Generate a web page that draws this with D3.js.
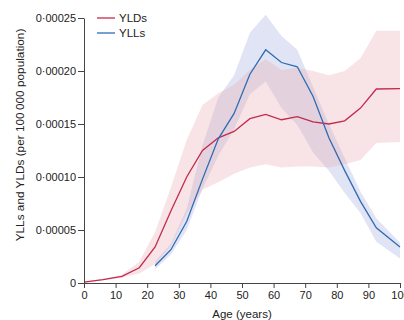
<!DOCTYPE html>
<html>
<head>
<meta charset="utf-8">
<script src="https://cdn.jsdelivr.net/npm/d3@7"></script>
<style>
  body { margin: 0; background: #fff; }
  svg { display: block; font-family: "Liberation Sans", Arial, sans-serif; }
  .axis text { font-size: 11px; fill: #222; }
  .axis path, .axis line { stroke: #444; }
</style>
</head>
<body>
<script>
// values in units of 1e-5 per 100 000 population
var yldAge = [0, 6, 12, 17.5, 22.5, 27.5, 32.5, 37.5, 42.5, 47.5, 52.5, 57.5, 62.5, 67.5, 72.5, 77.5, 82.5, 87.5, 92.5, 100];
var yldMid = [0.09, 0.31, 0.62, 1.44, 3.4, 6.8, 10.0, 12.5, 13.7, 14.3, 15.5, 15.9, 15.4, 15.7, 15.2, 15.0, 15.3, 16.5, 18.3, 18.33];
var yldLow = [0.05, 0.25, 0.5, 0.9, 1.8, 3.5, 6.5, 8.8, 9.5, 10.3, 10.9, 11.2, 10.9, 11.0, 11.0, 10.9, 11.2, 11.6, 13.2, 13.3];
var yldUp  = [0.12, 0.38, 0.78, 2.0, 4.8, 9.0, 13.5, 16.8, 17.9, 18.7, 20.1, 21.1, 20.1, 20.3, 20.0, 19.6, 20.0, 21.2, 23.8, 23.8];

var yllAge = [22.5, 27.5, 32.5, 37.5, 42.5, 47.5, 52.5, 57.5, 62.5, 67.5, 72.5, 77.5, 82.5, 87.5, 92.5, 100];
var yllMid = [1.63, 3.14, 5.8, 9.8, 13.6, 16.0, 19.7, 22.0, 20.8, 20.4, 17.6, 13.7, 10.6, 7.7, 5.2, 3.4];
var yllLow = [1.3, 2.7, 5.0, 8.9, 12.0, 14.5, 17.8, 19.0, 16.5, 14.9, 12.3, 10.6, 8.5, 6.6, 3.9, 2.3];
var yllUp  = [2.0, 3.7, 7.0, 13.0, 17.5, 19.6, 23.6, 25.3, 23.3, 22.0, 18.5, 15.0, 11.8, 8.6, 6.1, 3.8];

var xTicks = [0, 10, 20, 30, 40, 50, 60, 70, 80, 90, 100];
var yTicks = [0, 0.00005, 0.0001, 0.00015, 0.0002, 0.00025];

var width = 404, height = 320;
var margin = {top: 18, right: 4, bottom: 37, left: 84};

var svg = d3.select("body").append("svg")
  .attr("width", width)
  .attr("height", height);

var x = d3.scaleLinear().domain([0, 100]).range([margin.left, width - margin.right]);
var y = d3.scaleLinear().domain([0, 0.00025]).range([height - margin.bottom, margin.top]);

function rows(age, mid, low, up) {
  return age.map(function(a, i) {
    return {age: a, mid: mid[i] * 1e-5, low: low[i] * 1e-5, up: up[i] * 1e-5};
  });
}
var yld = rows(yldAge, yldMid, yldLow, yldUp);
var yll = rows(yllAge, yllMid, yllLow, yllUp);

var area = d3.area()
  .x(function(d) { return x(d.age); })
  .y0(function(d) { return y(d.low); })
  .y1(function(d) { return y(d.up); });

var line = d3.line()
  .x(function(d) { return x(d.age); })
  .y(function(d) { return y(d.mid); });

// uncertainty bands
svg.append("path").datum(yll)
  .attr("d", area)
  .attr("fill", "#b3bbe3")
  .attr("fill-opacity", 0.4);

svg.append("path").datum(yld)
  .attr("d", area)
  .attr("fill", "#e7a5ab")
  .attr("fill-opacity", 0.3);

// lines
svg.append("path").datum(yld)
  .attr("d", line)
  .attr("fill", "none")
  .attr("stroke", "#c42a4e")
  .attr("stroke-width", 1.3);

svg.append("path").datum(yll)
  .attr("d", line)
  .attr("fill", "none")
  .attr("stroke", "#2f6cb3")
  .attr("stroke-width", 1.3);

// axes
var fmt = function(d) { return d === 0 ? "0" : d3.format(".5f")(d).replace(".", "\u00b7"); };

svg.append("g")
  .attr("class", "axis")
  .attr("transform", "translate(" + margin.left + ",0)")
  .call(d3.axisLeft(y).tickValues(yTicks).tickFormat(fmt).tickSize(6).tickSizeOuter(0))
  .call(function(g) { g.selectAll("text").attr("x", -8); });

svg.append("g")
  .attr("class", "axis")
  .attr("transform", "translate(0," + (height - margin.bottom) + ")")
  .call(d3.axisBottom(x).tickValues(xTicks).tickFormat(d3.format("d")).tickSize(5).tickSizeOuter(0))
  .call(function(g) { g.selectAll("text").attr("y", 8); });

// axis titles
svg.append("text")
  .attr("transform", "translate(24,135) rotate(-90)")
  .attr("text-anchor", "middle")
  .attr("font-size", 11.8)
  .attr("fill", "#222")
  .text("YLLs and YLDs (per 100\u2009000 population)");

svg.append("text")
  .attr("x", (x(0) + x(100)) / 2)
  .attr("y", 318)
  .attr("text-anchor", "middle")
  .attr("font-size", 11.5)
  .attr("fill", "#222")
  .text("Age (years)");

// legend
var legendItems = [{name: "YLDs", color: "#c42a4e"}, {name: "YLLs", color: "#2f6cb3"}];
var legend = svg.selectAll(".legend")
  .data(legendItems)
  .enter().append("g")
  .attr("class", "legend")
  .attr("transform", function(d, i) { return "translate(97," + (18 + i * 15) + ")"; });

legend.append("line")
  .attr("x1", 0).attr("x2", 18)
  .attr("stroke", function(d) { return d.color; })
  .attr("stroke-width", 1.3);

legend.append("text")
  .attr("x", 22)
  .attr("dy", "0.35em")
  .attr("font-size", 11.5)
  .attr("fill", "#222")
  .text(function(d) { return d.name; });
</script>
</body>
</html>
